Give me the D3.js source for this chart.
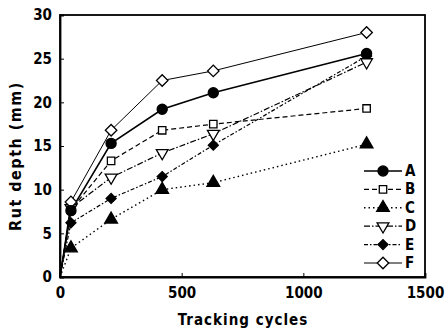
<!DOCTYPE html>
<html>
<head>
<meta charset="utf-8">
<script src="https://cdn.jsdelivr.net/npm/d3@7"></script>
<style>
body { margin: 0; background: #fff; }
text { font-family: "Liberation Sans Narrow", "DejaVu Sans Condensed", "Liberation Sans", sans-serif; font-weight: bold; }
</style>
</head>
<body>
<svg id="chart"></svg>
<script>
// data
const cycles = [0, 45, 210, 420, 630, 1260];
const seriesA = [0, 7.6, 15.3, 19.2, 21.1, 25.6];
const seriesB = [0, 7.7, 13.3, 16.8, 17.5, 19.3];
const seriesC = [0, 3.3, 6.6, 10.0, 10.8, 15.2];
const seriesD = [0, 7.9, 11.4, 14.2, 16.4, 24.6];
const seriesE = [0, 6.2, 9.0, 11.5, 15.1, 25.3];
const seriesF = [0, 8.6, 16.8, 22.5, 23.6, 28.0];
const names = ["A", "B", "C", "D", "E", "F"];
const xTicks = [0, 500, 1000, 1500];
const yTicks = [0, 5, 10, 15, 20, 25, 30];

const width = 446, height = 334;
const margin = {left: 60, right: 21, top: 15, bottom: 57};

const svg = d3.select("#chart").attr("width", width).attr("height", height);

const x = d3.scaleLinear().domain([0, 1500]).range([margin.left, width - margin.right]);
const y = d3.scaleLinear().domain([0, 30]).range([height - margin.bottom, margin.top]);

// line styles for each series (rot = degrees to turn the symbol)
const styles = {
    A: {dash: null, w: 1.6, sym: d3.symbolCircle, size: 80, fill: "#000"},
    B: {dash: "5,3", w: 1.2, sym: d3.symbolSquare, size: 55, fill: "#fff"},
    C: {dash: "1.5,3", w: 1.4, sym: d3.symbolTriangle, size: 70, fill: "#000"},
    D: {dash: "6,2,1.5,2", w: 1.2, sym: d3.symbolTriangle, size: 60, fill: "#fff", rot: 180},
    E: {dash: "4,2,1.5,2", w: 1.2, sym: d3.symbolSquare, size: 50, fill: "#000", rot: 45},
    F: {dash: null, w: 1, sym: d3.symbolSquare, size: 66, fill: "#fff", rot: 45}
};
const allSeries = [seriesA, seriesB, seriesC, seriesD, seriesE, seriesF];

// frame
svg.append("rect")
    .attr("x", margin.left).attr("y", margin.top)
    .attr("width", width - margin.left - margin.right)
    .attr("height", height - margin.top - margin.bottom)
    .attr("fill", "none").attr("stroke", "#000").attr("stroke-width", 1.8);

const xAxis = svg.append("g")
    .attr("transform", `translate(0,${height - margin.bottom})`)
    .call(d3.axisBottom(x).tickValues(xTicks).tickFormat(d3.format("d")).tickSize(-4).tickPadding(10));
const yAxis = svg.append("g")
    .attr("transform", `translate(${margin.left},0)`)
    .call(d3.axisLeft(y).tickValues(yTicks).tickSize(-4).tickPadding(8));

[xAxis, yAxis].forEach(a => {
    a.select(".domain").attr("stroke-width", 1.8);
    a.selectAll("text").attr("font-size", 15).attr("fill", "#000")
        .style("font-family", "'Liberation Sans Narrow', 'DejaVu Sans Condensed', sans-serif")
        .style("font-weight", "bold");
});

const line = d3.line().x((d, i) => x(cycles[i])).y(d => y(d));

names.forEach((n, k) => {
    const s = styles[n];
    svg.append("path")
        .datum(allSeries[k])
        .attr("d", line)
        .attr("fill", "none")
        .attr("stroke", "#000")
        .attr("stroke-width", s.w)
        .attr("stroke-dasharray", s.dash);
});

function drawMarker(g, n, px, py) {
    const s = styles[n];
    g.append("path")
        .attr("d", d3.symbol().type(s.sym).size(s.size)())
        .attr("transform", `translate(${px},${py})` + (s.rot ? ` rotate(${s.rot})` : ""))
        .attr("fill", s.fill)
        .attr("stroke", "#000")
        .attr("stroke-width", 1.3);
}

const marks = svg.append("g");
// draw in reverse so A sits on top like in the picture
[4, 3, 2, 1, 5, 0].forEach(k => {
    allSeries[k].forEach((v, i) => {
        if (i === 0) return;
        drawMarker(marks, names[k], x(cycles[i]), y(v));
    });
});

// legend
const legend = svg.append("g");
names.forEach((n, i) => {
    const ly = 171 + i * 18.4;
    const s = styles[n];
    legend.append("line")
        .attr("x1", 364).attr("x2", 402).attr("y1", ly).attr("y2", ly)
        .attr("stroke", "#000").attr("stroke-width", s.w)
        .attr("stroke-dasharray", s.dash);
    drawMarker(legend, n, 383, ly);
    legend.append("text")
        .attr("x", 405).attr("y", ly + 5)
        .attr("font-size", 15)
        .text(n);
});

svg.append("text")
    .attr("x", 243).attr("y", 325)
    .attr("text-anchor", "middle")
    .attr("font-size", 15)
    .attr("letter-spacing", 1)
    .text("Tracking cycles");

svg.append("text")
    .attr("transform", "translate(21,156) rotate(-90)")
    .attr("text-anchor", "middle")
    .attr("font-size", 16)
    .attr("letter-spacing", 1.5)
    .text("Rut depth (mm)");
</script>
</body>
</html>
